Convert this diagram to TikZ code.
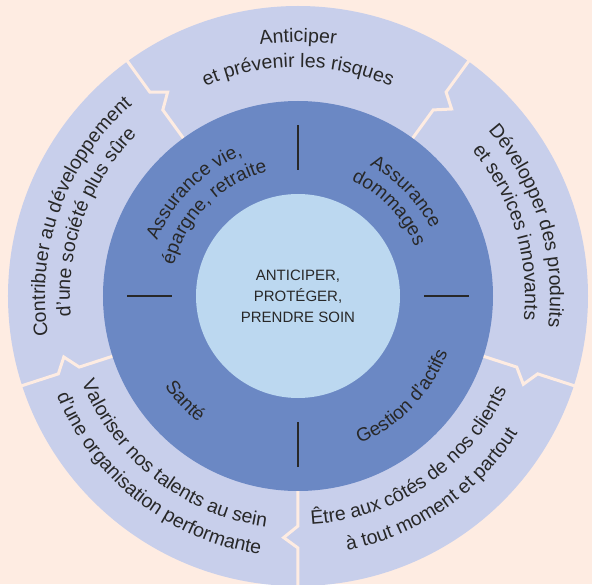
\documentclass[tikz,border=0pt]{standalone}
\usepackage{fontspec}
\setmainfont{Liberation Sans}
\usetikzlibrary{decorations.text}
\definecolor{bgpeach}{RGB}{254,236,226}
\definecolor{outerring}{RGB}{200,207,235}
\definecolor{midring}{RGB}{107,136,196}
\definecolor{innerdisc}{RGB}{188,216,240}
\definecolor{inktext}{RGB}{40,40,40}
\newcommand{\outfont}{\fontsize{19.5pt}{23pt}\selectfont}
\newcommand{\midfont}{\fontsize{19pt}{22pt}\selectfont}
\tikzstyle{divider} = [draw=bgpeach, line width=3pt]
\tikzstyle{tick} = [draw=inktext, line width=1.4pt]
\tikzstyle{arctext} = [decorate, decoration={text along path, text align=center, text color=inktext}]
\tikzstyle{core} = [circle, fill=innerdisc, minimum size=204pt, inner sep=0pt, align=center, text=inktext, font=\fontsize{15pt}{21pt}\selectfont]

\begin{document}
\begin{tikzpicture}
		\useasboundingbox (-298pt,-288pt) rectangle (294pt,296pt);
		\fill[bgpeach] (-298pt,-288pt) rectangle (294pt,296pt);
		% rings
		\fill[outerring] (0,0) circle[radius=290pt];
		\foreach \a in {54,126,198,270,342}
			\draw[divider] (\a:190pt) -- (\a:230pt) -- ({\a-3.4}:242pt) -- (\a:252pt) -- (\a:296pt);
		\fill[midring] (0,0) circle[radius=195pt];
		\node[core](centre) at (0,0) {ANTICIPER,\\PROTÉGER,\\PRENDRE SOIN};
		\foreach \a in {0,90,180,270}
			\draw[tick] (\a:126pt) -- (\a:171pt);
		% outer ring texts
		\path[arctext, decoration={text={|\outfont|Anticiper}}] (126:254pt) arc[start angle=126, end angle=54, radius=254pt];
		\path[arctext, decoration={text={|\outfont|et prévenir les risques}}] (126:229pt) arc[start angle=126, end angle=54, radius=229pt];
		\path[arctext, decoration={text={|\outfont|Développer des produits}}] (53:252pt) arc[start angle=53, end angle=-19, radius=252pt];
		\path[arctext, decoration={text={|\outfont|et services innovants}}] (53:227pt) arc[start angle=53, end angle=-19, radius=227pt];
		\path[arctext, decoration={text={|\outfont|Contribuer au développement}}] (196:253pt) arc[start angle=196, end angle=124, radius=253pt];
		\path[arctext, decoration={text={|\outfont|d’une société plus sûre}}] (196:228pt) arc[start angle=196, end angle=124, radius=228pt];
		\path[arctext, decoration={text={|\outfont|Valoriser nos talents au sein}}] (196:233pt) arc[start angle=196, end angle=268, radius=233pt];
		\path[arctext, decoration={text={|\outfont|d’une organisation performante}}] (196:261pt) arc[start angle=196, end angle=268, radius=261pt];
		\path[arctext, decoration={text={|\outfont|Être aux côtés de nos clients}}] (268.5:229pt) arc[start angle=268.5, end angle=340.5, radius=229pt];
		\path[arctext, decoration={text={|\outfont|à tout moment et partout}}] (268.5:259pt) arc[start angle=268.5, end angle=340.5, radius=259pt];
		% middle ring texts
		\path[arctext, decoration={text={|\midfont|Assurance vie,}}] (180:151pt) arc[start angle=180, end angle=90, radius=151pt];
		\path[arctext, decoration={text={|\midfont|épargne, retraite}}] (180:128pt) arc[start angle=180, end angle=90, radius=128pt];
		\path[arctext, decoration={text={|\midfont|Assurance}}] (89:149pt) arc[start angle=89, end angle=-1, radius=149pt];
		\path[arctext, decoration={text={|\midfont|dommages}}] (89:127pt) arc[start angle=89, end angle=-1, radius=127pt];
		\path[arctext, decoration={text={|\midfont|Santé}}] (178:161pt) arc[start angle=178, end angle=268, radius=161pt];
		\path[arctext, decoration={text={|\midfont|Gestion d’actifs}}] (271:160pt) arc[start angle=271, end angle=361, radius=160pt];
\end{tikzpicture}
\end{document}
